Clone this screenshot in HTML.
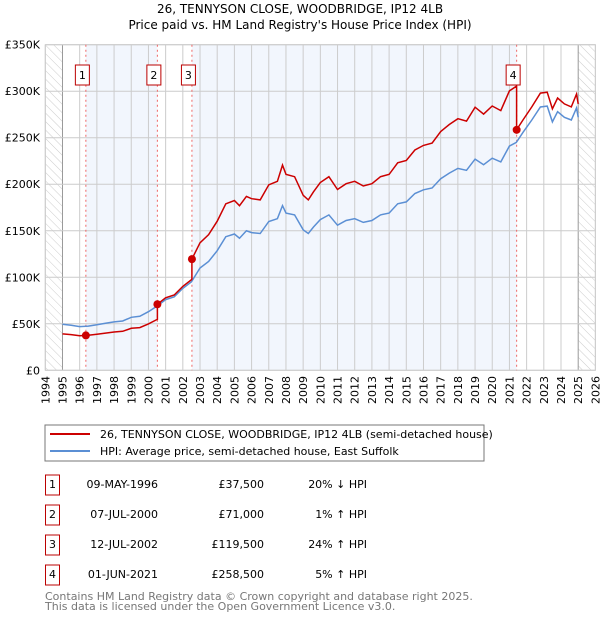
<!DOCTYPE html>
<html><head><meta charset="utf-8"><style>
body{margin:0;background:#fff;font-family:"DejaVu Sans","Liberation Sans",sans-serif;}
svg text{font-family:"DejaVu Sans","Liberation Sans",sans-serif;}
</style></head><body>
<svg id="chart" width="600" height="620" xmlns="http://www.w3.org/2000/svg">
<defs><pattern id="hatch" width="6" height="6" patternUnits="userSpaceOnUse" patternTransform="rotate(-45)"><line x1="0" y1="0" x2="0" y2="6" stroke="#ccc" stroke-width="1"/></pattern></defs>
<text x="300" y="13" text-anchor="middle" font-size="12">26, TENNYSON CLOSE, WOODBRIDGE, IP12 4LB</text>
<text x="300" y="29" text-anchor="middle" font-size="12">Price paid vs. HM Land Registry's House Price Index (HPI)</text>
<g id="plot"></g>
<rect x="45" y="425" width="439" height="36" fill="#fff" stroke="#777"/>
<line x1="50" y1="434" x2="90" y2="434" stroke="#cc0000" stroke-width="2"/>
<text x="100" y="438" font-size="11">26, TENNYSON CLOSE, WOODBRIDGE, IP12 4LB (semi-detached house)</text>
<line x1="50" y1="451" x2="90" y2="451" stroke="#5b8fd4" stroke-width="2"/>
<text x="100" y="455" font-size="11">HPI: Average price, semi-detached house, East Suffolk</text>
<g id="table" font-size="11"></g>
<text x="45" y="600" font-size="11" fill="#777">Contains HM Land Registry data © Crown copyright and database right 2025.</text>
<text x="45" y="610" font-size="11" fill="#777">This data is licensed under the Open Government Licence v3.0.</text>
</svg>
<script>
const hpiYears=[1995,1995.5,1996,1996.5,1997,1997.5,1998,1998.5,1999,1999.5,2000,2000.5,2001,2001.5,2002,2002.5,2003,2003.5,2004,2004.5,2005,2005.3,2005.7,2006,2006.5,2007,2007.5,2007.8,2008,2008.5,2009,2009.3,2009.6,2010,2010.5,2011,2011.5,2012,2012.5,2013,2013.5,2014,2014.5,2015,2015.5,2016,2016.5,2017,2017.5,2018,2018.5,2019,2019.5,2020,2020.5,2021,2021.4,2021.8,2022.3,2022.8,2023.2,2023.5,2023.8,2024.2,2024.6,2024.9,2025];
const hpiValues=[49.4,48.5,47,47.5,49,50.5,52,53,57,58,63,69,76,79,88,95,110,117,128.6,143.6,146.5,142,150,148,147,160,163,177,169,167,151,147,154,162,167,156,161,163,159,161,167,169,179,181,190,194,196,206,212,217,215,227,221,228,224,241,245,256,269,283,284,267,278,272,269,282,272];
const saleYears=[1996.36,2000.52,2002.53,2021.42];
const salePrices=[37.5,71,119.5,258.5];
const saleLabels=["1","2","3","4"];
const saleDates=["09-MAY-1996","07-JUL-2000","12-JUL-2002","01-JUN-2021"];
const salePriceText=["£37,500","£71,000","£119,500","£258,500"];
const saleHpiText=["20% ↓ HPI","1% ↑ HPI","24% ↑ HPI","5% ↑ HPI"];
const yTicks=[0,50,100,150,200,250,300,350];
const yTickLabels=["£0","£50K","£100K","£150K","£200K","£250K","£300K","£350K"];
const xStart=1994,xEnd=2026;

const NS="http://www.w3.org/2000/svg";
const X=y=>45.3+(y-1994)*17.19;
const Y=v=>370.3-v*0.9303;
const plot=document.getElementById('plot');
function mk(tag,attrs,parent){const e=document.createElementNS(NS,tag);for(const k in attrs)e.setAttribute(k,attrs[k]);(parent||plot).appendChild(e);return e;}
function hpiAt(t){for(let i=0;i<hpiYears.length-1;i++){if(t<=hpiYears[i+1]){const f=(t-hpiYears[i])/(hpiYears[i+1]-hpiYears[i]);return hpiValues[i]+f*(hpiValues[i+1]-hpiValues[i]);}}return hpiValues[hpiValues.length-1];}
let e;
e=mk('rect',{x:X(saleYears[0]),y:Y(350),width:X(saleYears[1])-X(saleYears[0]),height:Y(0)-Y(350),fill:'#f2f6fd'});


e=mk('rect',{x:X(saleYears[2]),y:Y(350),width:X(saleYears[3])-X(saleYears[2]),height:Y(0)-Y(350),fill:'#f2f6fd'});


e=mk('rect',{x:X(1994),y:Y(350),width:X(1995)-X(1994),height:Y(0)-Y(350),fill:'url(#hatch)'});


e=mk('rect',{x:X(2025),y:Y(350),width:X(2026)-X(2025),height:Y(0)-Y(350),fill:'url(#hatch)'});


for(let yr=xStart;yr<=xEnd;yr++){
e=mk('line',{x1:X(yr),x2:X(yr),y1:Y(350),y2:Y(0),stroke:(yr==1995||yr==2025)?'#999':'#ccc','stroke-width':1});


e=mk('text',{x:0,y:0,'font-size':11,'text-anchor':'end',transform:`translate(${X(yr)+4},376) rotate(-90)`});
e.textContent=yr;


}
yTicks.forEach((v,i)=>{
e=mk('line',{x1:X(xStart),x2:X(xEnd),y1:Y(v),y2:Y(v),stroke:'#ccc','stroke-width':1});


e=mk('text',{x:40,y:Y(v)+4,'font-size':11,'text-anchor':'end'});
e.textContent=yTickLabels[i];


});
e=mk('rect',{x:X(xStart),y:Y(350),width:X(xEnd)-X(xStart),height:Y(0)-Y(350),fill:'none',stroke:'#ccc'});


saleYears.forEach((s,i)=>{
e=mk('line',{x1:X(s),x2:X(s),y1:Y(350),y2:Y(0),stroke:'#e66','stroke-width':1,'stroke-dasharray':'2,3'});


});
let d=hpiYears.map((y,i)=>(i?'L':'M')+X(y).toFixed(1)+','+Y(hpiValues[i]).toFixed(1)).join('');
e=mk('path',{d:d,fill:'none',stroke:'#5b8fd4','stroke-width':1.5});


let pts=[];
const ratioAt=t=>{let k=0;for(let i=0;i<saleYears.length;i++)if(t>=saleYears[i])k=i;return salePrices[k]/hpiAt(saleYears[k]);};
let times=hpiYears.concat(saleYears).concat(saleYears.map(s=>s-0.001)).sort((a,b)=>a-b);
times.forEach(t=>pts.push([X(t),Y(hpiAt(t)*ratioAt(t))]));
e=mk('path',{d:pts.map((p,i)=>(i?'L':'M')+p[0].toFixed(1)+','+p[1].toFixed(1)).join(''),fill:'none',stroke:'#cc0000','stroke-width':1.5});


saleYears.forEach((s,i)=>{
e=mk('circle',{cx:X(s),cy:Y(salePrices[i]),r:4,fill:'#cc0000'});


const bx=X(s)-3.5;
e=mk('rect',{x:bx-7,y:65,width:14,height:20,fill:'#fff',stroke:'#b00'});


e=mk('text',{x:bx,y:79,'font-size':11,'text-anchor':'middle'});
e.textContent=saleLabels[i];


});
const tbl=document.getElementById('table');
saleLabels.forEach((l,i)=>{
const cy=483+i*30;
e=mk('rect',{x:45.5,y:cy-8,width:14,height:20,fill:'#fff',stroke:'#b00'},tbl);


e=mk('text',{x:52.5,y:cy+5,'text-anchor':'middle'},tbl);e.textContent=l;


e=mk('text',{x:158,y:cy+5,'text-anchor':'end'},tbl);e.textContent=saleDates[i];


e=mk('text',{x:264,y:cy+5,'text-anchor':'end'},tbl);e.textContent=salePriceText[i];


e=mk('text',{x:367,y:cy+5,'text-anchor':'end'},tbl);e.textContent=saleHpiText[i];


});
</script>
</body></html>
